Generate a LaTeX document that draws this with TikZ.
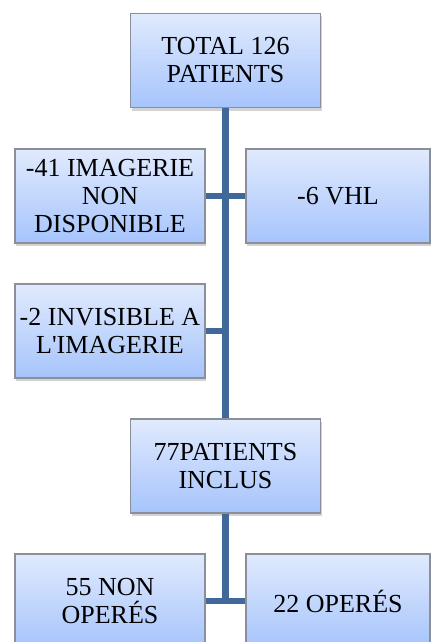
\documentclass[tikz,border=0pt]{standalone}
\usepackage{fontspec}
\setmainfont{Liberation Serif}[Ligatures=TeXOff]
\usetikzlibrary{shadows}
\definecolor{boxtop}{HTML}{E0EAFD}
\definecolor{boxbot}{HTML}{A6C4FC}
\definecolor{boxline}{HTML}{8A8F99}
\definecolor{trunk}{HTML}{40699A}
\begin{document}
\begin{tikzpicture}[x=1pt, y=-1pt]
		\useasboundingbox (0, 0) rectangle (431, 642);
		\tikzstyle{every node}=[inner sep=1pt, align=center, font=\fontsize{26}{28}\selectfont]
		\tikzstyle{box}=[draw=boxline, line width=1.2pt, top color=boxtop, bottom color=boxbot,
			minimum height=94pt, drop shadow={opacity=0.35, shadow xshift=1pt, shadow yshift=-3pt}]
		\tikzstyle{link}=[draw=trunk, line width=6.5pt]
		\node[box, minimum width=190pt] (total) at (225.5, 60.5) {TOTAL 126\\PATIENTS};
		\node[box, minimum width=190pt] (imag) at (110, 196) {-41 IMAGERIE\\NON\\DISPONIBLE};
		\node[box, minimum width=184pt] (vhl) at (338, 196) {-6 VHL};
		\node[box, minimum width=190pt] (invis) at (110, 331) {-2 INVISIBLE A\\L'IMAGERIE};
		\node[box, minimum width=190pt] (incl) at (225.5, 466) {77PATIENTS\\INCLUS};
		\node[box, minimum width=190pt] (nonop) at (110, 601) {55 NON\\OPERÉS};
		\node[box, minimum width=184pt] (op) at (338, 601) {22 OPERÉS};
		\coordinate (knee) at (incl |- nonop);
		\draw [link] (total) -- (incl);
		\draw [link] (imag) -- (vhl);
		\draw [link] (invis.east) -- (invis.east -| total);
		\draw [link] (incl) -- (knee);
		\draw [link] (nonop) -- (op);
\end{tikzpicture}
\end{document}
